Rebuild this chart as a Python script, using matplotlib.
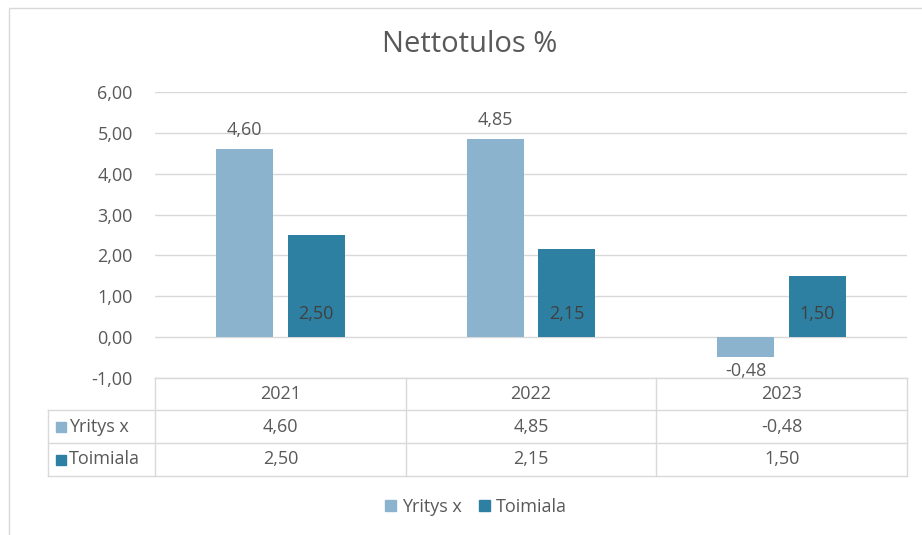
import numpy as np
import matplotlib.pyplot as plt
from matplotlib.lines import Line2D
from matplotlib.patches import Rectangle

years = ["2021", "2022", "2023"]
yritys = [4.60, 4.85, -0.48]
toimiala = [2.50, 2.15, 1.50]
series_names = ["Yritys x", "Toimiala"]
yticks = [-1, 0, 1, 2, 3, 4, 5, 6]

c_yritys = "#8BB3CD"
c_toimiala = "#2E80A2"
txt = "#595959"
grid = "#D9D9D9"
fs = 13

plt.rcParams['font.family'] = ['Open Sans', 'DejaVu Sans']

W, H = 922, 535
fig = plt.figure(figsize=(W / 100, H / 100), dpi=100)

def fx(px):
    return px / W

def fy(py):
    return 1 - py / H

# outer border
fig.add_artist(Rectangle((fx(9), fy(540)), fx(920) - fx(0), fy(8) - fy(540),
                         transform=fig.transFigure, fill=False, ec=grid, lw=1))

left, right, top, bottom = 155, 907, 92, 378
ax = fig.add_axes([fx(left), fy(bottom), fx(right) - fx(left), fy(top) - fy(bottom)])

x = np.arange(len(years))
w = 0.227
off = 0.143
b1 = ax.bar(x - off, yritys, w, color=c_yritys, zorder=3)
b2 = ax.bar(x + off, toimiala, w, color=c_toimiala, zorder=3)

ax.set_xlim(-0.5, len(years) - 0.5)
ax.set_ylim(-1, 6)
ax.set_yticks(yticks)
ax.set_yticklabels([f"{v:.2f}".replace(".", ",") for v in yticks], color=txt, fontsize=fs)
ax.tick_params(axis="y", length=0, pad=16)
ax.set_xticks([])
ax.grid(axis="y", color=grid, lw=1, zorder=0)
for s in ax.spines.values():
    s.set_visible(False)

def fmt(v):
    return f"{v:.2f}".replace(".", ",")

# data labels
for rect, v in zip(b1, yritys):
    cx = rect.get_x() + rect.get_width() / 2
    dy = 14 if v >= 0 else -10
    ax.annotate(fmt(v), (cx, v), xytext=(0, dy), textcoords="offset points",
                ha="center", va="center", fontsize=fs, color=txt)
for rect, v in zip(b2, toimiala):
    cx = rect.get_x() + rect.get_width() / 2
    ax.annotate(fmt(v), (cx, 0), xytext=(0, 17), textcoords="offset points",
                ha="center", va="center", fontsize=fs, color="#404040")

# title
fig.text(fx(470), fy(45), "Nettotulos %", ha="center", va="center", fontsize=21, color=txt)

# data table
rows = [bottom, 410, 443, 476]
label_left = 48
cols = [left + i * (right - left) / len(years) for i in range(len(years) + 1)]
lc = dict(color=grid, lw=1, transform=fig.transFigure)
fig.add_artist(Line2D([fx(left), fx(right)], [fy(rows[0])] * 2, **lc))
for r in rows[1:]:
    fig.add_artist(Line2D([fx(label_left), fx(right)], [fy(r)] * 2, **lc))
for c in cols:
    fig.add_artist(Line2D([fx(c)] * 2, [fy(rows[0]), fy(rows[-1])], **lc))
fig.add_artist(Line2D([fx(label_left)] * 2, [fy(rows[1]), fy(rows[-1])], **lc))

for i, yr in enumerate(years):
    cx = (cols[i] + cols[i + 1]) / 2
    fig.text(fx(cx), fy((rows[0] + rows[1]) / 2), yr, ha="center", va="center", fontsize=fs, color=txt)
    fig.text(fx(cx), fy((rows[1] + rows[2]) / 2), fmt(yritys[i]), ha="center", va="center", fontsize=fs, color=txt)
    fig.text(fx(cx), fy((rows[2] + rows[3]) / 2), fmt(toimiala[i]), ha="center", va="center", fontsize=fs, color=txt)

for k, (name, col) in enumerate(zip(series_names, [c_yritys, c_toimiala])):
    yc = (rows[k + 1] + rows[k + 2]) / 2
    fig.add_artist(Rectangle((fx(56), fy(yc + 5)), fx(10), fy(0) - fy(10),
                             transform=fig.transFigure, color=col))
    fig.text(fx(69), fy(yc), name, ha="left", va="center", fontsize=fs, color=txt)

# legend
handles = [Rectangle((0, 0), 1, 1, color=c) for c in [c_yritys, c_toimiala]]
fig.legend(handles, series_names, loc="center", bbox_to_anchor=(fx(476), fy(507)),
           ncol=2, frameon=False, fontsize=fs, labelcolor=txt,
           handlelength=0.6, handleheight=0.6, handletextpad=0.3, columnspacing=1.0)

fig.savefig("out.png", dpi=100)
